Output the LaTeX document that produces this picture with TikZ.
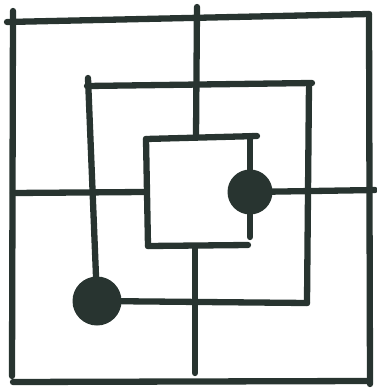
\documentclass[tikz,border=0pt]{standalone}
\usepackage{tikz}

\definecolor{ink}{RGB}{40,52,48}

\begin{document}
\begin{tikzpicture}[x=1pt,y=-1pt]
        \tikzset{BoardLine/.style={draw=ink, line width=6.3pt, line cap=round},
                 Stone/.style={circle, fill=ink, inner sep=0pt}}
        \useasboundingbox (0,0) rectangle (377,389);
        % outer square
        \coordinate (OTL) at (7,22);
        \coordinate (OTR) at (369,14);
        \coordinate (OLT) at (13,11);
        \coordinate (OLB) at (12,376);
        \coordinate (ORB) at (370,384);
        \coordinate (OBL) at (13,382);
        \coordinate (OBR) at (369,381);
        \draw[BoardLine] (OTL) -- (OTR);
        \draw[BoardLine] (OTR) -- (ORB);
        \draw[BoardLine] (OLT) -- (OLB);
        \draw[BoardLine] (OBL) -- (OBR);
        % middle spiral
        \coordinate (MTL) at (87,86);
        \coordinate (MTR) at (312,83);
        \coordinate (MRT) at (309,84);
        \coordinate (MRB) at (307,303);
        \coordinate (MLT) at (88,78);
        \node[Stone, minimum size=49pt] (P) at (97,301) {};
        \draw[BoardLine] (MTL) -- (MTR);
        \draw[BoardLine] (MRT) -- (MRB);
        \draw[BoardLine] (MLT) -- (P.center);
        \draw[BoardLine] (P.center) -- (MRB);
        % inner square
        \coordinate (ITL) at (146,139);
        \coordinate (ITR) at (257,136);
        \coordinate (IRT) at (250,136);
        \coordinate (IRB) at (250,237);
        \coordinate (IBL) at (148,246);
        \coordinate (IBR) at (248,245);
        \node[Stone, minimum size=45pt] (Q) at (250,192) {};
        \draw[BoardLine] (ITL) -- (ITR);
        \draw[BoardLine] (ITL) -- (IBL);
        \draw[BoardLine] (IBL) -- (IBR);
        \draw[BoardLine] (IRT) -- (IRB);
        % cross lines
        \coordinate (VT) at (197,7);
        \coordinate (VTI) at (196,137);
        \coordinate (VBI) at (195,247);
        \coordinate (VB) at (195,373);
        \coordinate (HL) at (13,193);
        \coordinate (HLI) at (144,192);
        \coordinate (HR) at (375,190);
        \draw[BoardLine] (VT) -- (VTI);
        \draw[BoardLine] (VBI) -- (VB);
        \draw[BoardLine] (HL) -- (HLI);
        \draw[BoardLine] (Q.center) -- (HR);
\end{tikzpicture}
\end{document}
